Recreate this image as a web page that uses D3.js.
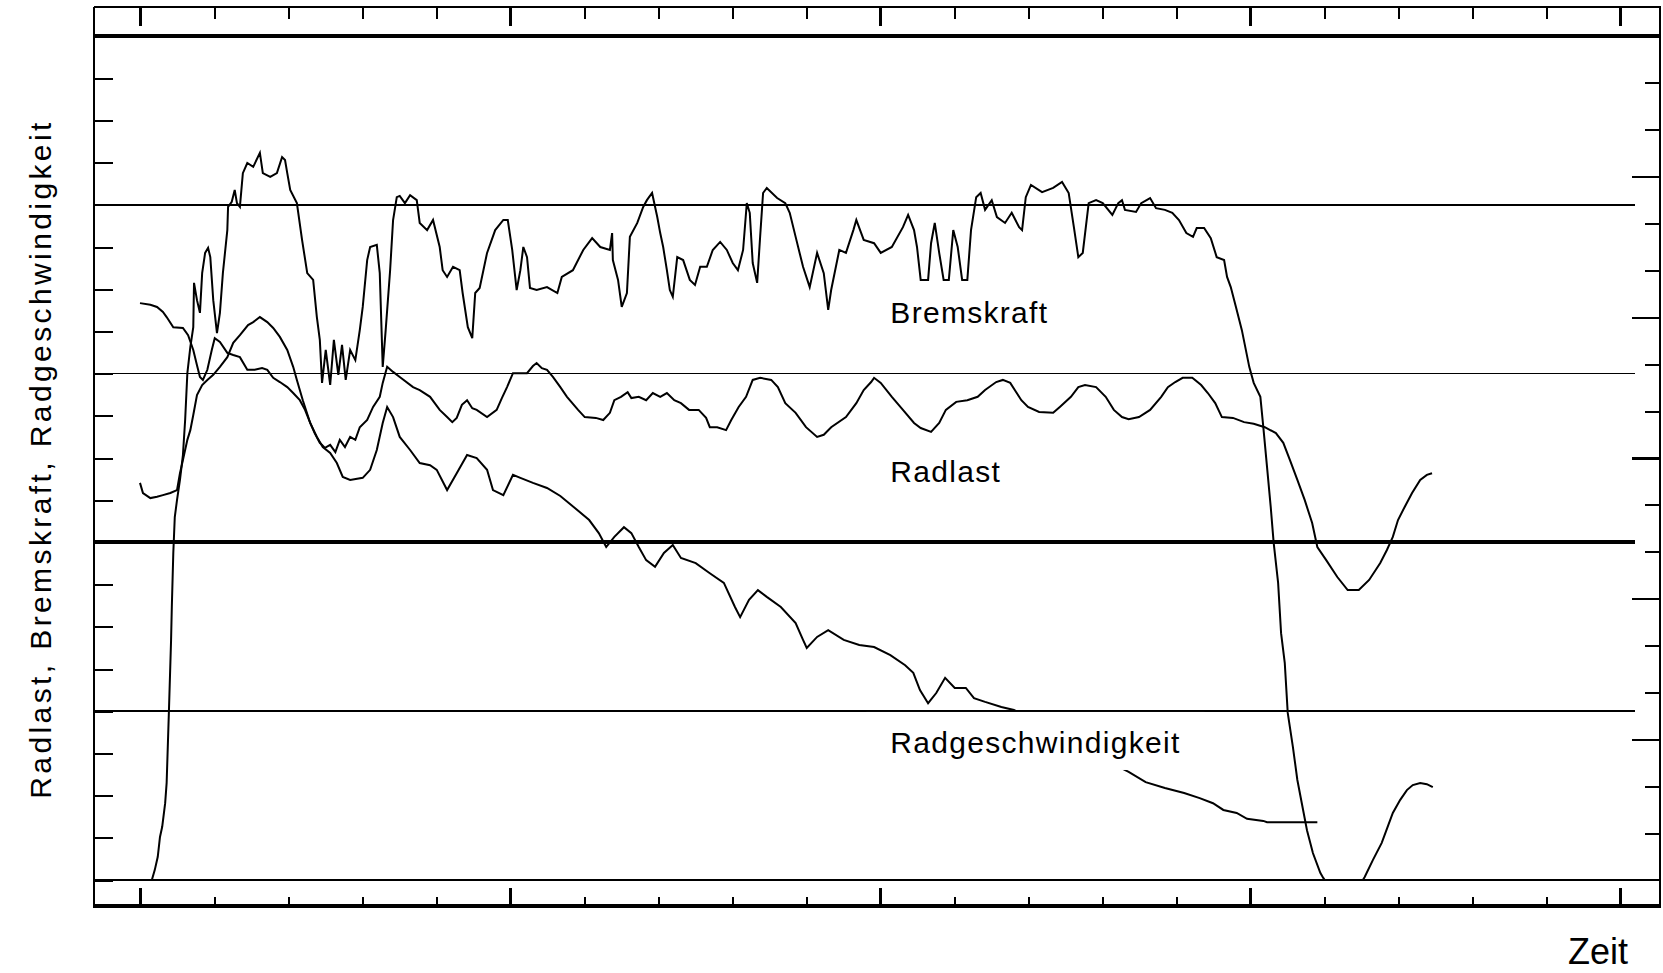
<!DOCTYPE html>
<html>
<head>
<meta charset="utf-8">
<script src="https://cdn.jsdelivr.net/npm/d3@7"></script>
<style>
  html, body { margin: 0; padding: 0; background: #fff; }
  svg { display: block; }
  text { font-family: "Liberation Sans", Arial, sans-serif; fill: #000; }
</style>
</head>
<body>
<svg id="chart" width="1663" height="973"></svg>
<script>
// ---- axis divisions -------------------------------------------------------
const timeTicks = d3.range(0, 21);          // Zeit, 20 divisions
const timeMajor = [0, 5, 10, 15, 20];
const leftTicks = d3.range(0, 21);          // left scale, 20 divisions
const gridThin = [0, 4, 12, 16];
const gridThick = [8, 20];
const rightTicks = d3.range(1, 18);         // right scale, 18 divisions
const rightMajor = [3, 6, 9, 12, 15];

// ---- measured traces: [Zeit, Wert] ---------------------------------------
const bremskraft = [
  [0.16,0],[0.20,0.24],[0.24,0.55],[0.27,1.02],[0.30,1.26],[0.34,1.82],[0.36,2.30],[0.39,3.96],[0.42,5.69],[0.43,6.47],
  [0.45,7.75],[0.47,8.60],[0.50,9.00],[0.54,9.48],[0.58,10.07],[0.61,10.90],[0.64,12.01],[0.68,12.63],[0.72,13.10],[0.73,14.15],
  [0.77,13.74],[0.81,13.44],[0.84,14.38],[0.88,14.86],[0.92,14.98],[0.95,14.76],[0.99,13.74],[1.04,12.96],[1.08,13.44],[1.12,14.38],
  [1.18,15.40],[1.19,15.95],[1.24,16.07],[1.28,16.35],[1.31,16.04],[1.35,15.95],[1.39,16.75],[1.45,16.99],[1.53,16.90],[1.62,17.23],
  [1.66,16.75],[1.76,16.66],[1.85,16.75],[1.92,17.13],[1.96,17.06],[1.99,16.75],[2.03,16.35],[2.12,16.04],[2.19,15.17],[2.26,14.38],
  [2.34,14.22],[2.39,13.34],[2.43,12.80],[2.46,11.78],[2.51,12.56],[2.57,11.73],[2.62,12.80],[2.68,11.97],[2.73,12.68],[2.78,11.85],
  [2.84,12.56],[2.91,12.32],[2.97,13.03],[3.01,13.58],[3.07,14.69],[3.11,15.00],[3.20,15.05],[3.24,14.38],[3.28,12.16],[3.32,13.03],
  [3.38,14.45],[3.42,15.64],[3.47,16.18],[3.51,16.21],[3.58,16.04],[3.65,16.23],[3.74,16.11],[3.78,15.57],[3.88,15.40],[3.96,15.64],
  [4.05,15.00],[4.09,14.45],[4.15,14.29],[4.23,14.53],[4.32,14.45],[4.36,13.91],[4.43,13.10],[4.49,12.84],[4.53,13.91],[4.59,14.03],
  [4.69,14.86],[4.80,15.40],[4.91,15.64],[4.97,15.64],[5.03,14.93],[5.09,13.98],[5.14,14.45],[5.18,15.00],[5.23,14.76],[5.27,14.03],
  [5.36,13.98],[5.50,14.05],[5.64,13.91],[5.70,14.29],[5.85,14.45],[5.99,14.93],[6.11,15.21],[6.22,15.00],[6.35,14.93],[6.38,15.33],
  [6.39,14.69],[6.46,14.22],[6.51,13.58],[6.58,13.91],[6.62,15.24],[6.72,15.57],[6.80,15.95],[6.85,16.11],[6.92,16.28],[6.99,15.71],
  [7.03,15.33],[7.07,15.00],[7.12,14.45],[7.16,13.98],[7.20,13.82],[7.26,14.76],[7.34,14.69],[7.43,14.22],[7.50,14.10],[7.57,14.53],
  [7.66,14.53],[7.74,14.93],[7.84,15.12],[7.93,14.93],[8.01,14.62],[8.08,14.45],[8.15,14.93],[8.20,16.04],[8.24,15.81],[8.28,14.62],
  [8.34,14.15],[8.38,15.24],[8.42,16.28],[8.47,16.40],[8.61,16.16],[8.72,16.04],[8.78,15.81],[8.86,15.24],[8.96,14.53],[9.05,14.05],
  [9.15,14.86],[9.24,14.38],[9.30,13.51],[9.34,13.98],[9.45,14.93],[9.54,14.86],[9.64,15.40],[9.68,15.64],[9.78,15.17],[9.92,15.09],
  [10.01,14.86],[10.16,15.00],[10.31,15.47],[10.38,15.76],[10.46,15.40],[10.50,15.00],[10.55,14.22],[10.65,14.22],[10.69,15.09],[10.74,15.57],
  [10.80,14.86],[10.86,14.22],[10.93,14.22],[10.99,15.40],[11.05,15.00],[11.11,14.22],[11.18,14.22],[11.23,15.40],[11.30,16.18],[11.36,16.28],
  [11.42,15.88],[11.51,16.11],[11.58,15.71],[11.69,15.57],[11.78,15.81],[11.88,15.47],[11.92,15.40],[11.97,16.18],[12.04,16.47],[12.19,16.30],
  [12.34,16.40],[12.46,16.54],[12.55,16.28],[12.62,15.47],[12.68,14.76],[12.74,14.86],[12.82,16.04],[12.92,16.11],[13.01,16.04],[13.14,15.76],
  [13.22,16.04],[13.27,16.11],[13.31,15.88],[13.46,15.83],[13.53,16.04],[13.65,16.16],[13.73,15.92],[13.85,15.88],[13.95,15.81],[14.04,15.64],
  [14.14,15.33],[14.23,15.24],[14.28,15.45],[14.38,15.45],[14.47,15.21],[14.55,14.76],[14.65,14.69],[14.69,14.29],[14.74,14.05],[14.81,13.58],
  [14.89,13.03],[14.99,12.16],[15.05,11.78],[15.14,11.45],[15.18,10.73],[15.23,9.79],[15.28,8.84],[15.32,7.99],[15.38,7.04],[15.42,5.85],
  [15.47,5.14],[15.51,3.96],[15.58,3.15],[15.64,2.37],[15.70,1.82],[15.77,1.18],[15.85,0.64],[15.95,0.17],[15.99,0.05],[16.28,-0.70],
  [16.55,0.07],[16.66,0.47],[16.78,0.88],[16.86,1.26],[16.93,1.59],[17.03,1.90],[17.12,2.13],[17.20,2.25],[17.30,2.30],[17.39,2.27],
  [17.47,2.20]
];

const radlast = [
  [0.00,13.67],[0.14,13.63],[0.23,13.58],[0.31,13.46],[0.36,13.34],[0.45,13.10],[0.58,13.08],[0.65,12.91],[0.72,12.56],[0.77,12.20],
  [0.81,11.92],[0.85,11.85],[0.91,12.09],[0.97,12.56],[1.01,12.84],[1.08,12.75],[1.18,12.49],[1.26,12.44],[1.35,12.39],[1.45,12.09],
  [1.55,12.09],[1.65,12.13],[1.72,12.09],[1.80,11.90],[1.89,11.80],[1.99,11.68],[2.07,11.54],[2.16,11.37],[2.23,11.14],[2.30,10.83],
  [2.36,10.59],[2.43,10.36],[2.50,10.24],[2.57,10.31],[2.64,10.14],[2.70,10.43],[2.77,10.26],[2.84,10.50],[2.91,10.43],[2.97,10.73],
  [3.07,10.90],[3.15,11.21],[3.24,11.45],[3.28,11.78],[3.34,12.16],[3.42,12.04],[3.51,11.92],[3.69,11.68],[3.78,11.61],[3.92,11.45],
  [4.05,11.14],[4.15,10.97],[4.22,10.85],[4.28,10.95],[4.35,11.26],[4.42,11.37],[4.49,11.18],[4.55,11.14],[4.69,10.97],[4.82,11.14],
  [4.89,11.42],[4.96,11.68],[5.04,12.01],[5.23,12.01],[5.31,12.18],[5.36,12.25],[5.43,12.13],[5.50,12.09],[5.58,11.92],[5.68,11.68],
  [5.77,11.45],[5.92,11.14],[6.01,10.97],[6.16,10.95],[6.26,10.90],[6.35,11.07],[6.41,11.37],[6.50,11.45],[6.59,11.56],[6.64,11.42],
  [6.74,11.45],[6.84,11.37],[6.93,11.54],[7.03,11.45],[7.12,11.54],[7.22,11.37],[7.31,11.30],[7.42,11.14],[7.55,11.14],[7.65,10.95],
  [7.70,10.73],[7.80,10.73],[7.92,10.66],[7.99,10.90],[8.09,11.21],[8.19,11.45],[8.28,11.85],[8.38,11.90],[8.53,11.85],[8.62,11.68],
  [8.72,11.30],[8.86,11.07],[9.00,10.73],[9.15,10.50],[9.24,10.55],[9.34,10.73],[9.54,10.97],[9.68,11.30],[9.78,11.61],[9.88,11.80],
  [9.92,11.90],[10.01,11.78],[10.16,11.45],[10.31,11.14],[10.46,10.83],[10.55,10.71],[10.69,10.62],[10.80,10.83],[10.89,11.14],[11.03,11.33],
  [11.18,11.37],[11.32,11.45],[11.42,11.61],[11.57,11.80],[11.66,11.85],[11.76,11.78],[11.91,11.37],[12.00,11.21],[12.15,11.09],[12.34,11.07],
  [12.43,11.21],[12.58,11.45],[12.68,11.68],[12.77,11.73],[12.92,11.68],[13.05,11.45],[13.16,11.14],[13.27,10.97],[13.36,10.92],[13.50,10.97],
  [13.65,11.14],[13.80,11.45],[13.89,11.68],[13.99,11.80],[14.09,11.90],[14.22,11.90],[14.34,11.73],[14.43,11.54],[14.53,11.30],[14.62,10.97],
  [14.77,10.95],[14.92,10.85],[15.05,10.81],[15.20,10.73],[15.35,10.59],[15.45,10.36],[15.54,9.95],[15.64,9.48],[15.74,9.00],[15.84,8.46],
  [15.91,7.89],[16.03,7.58],[16.18,7.18],[16.32,6.87],[16.47,6.87],[16.61,7.11],[16.76,7.51],[16.85,7.82],[16.93,8.13],[17.00,8.53],
  [17.09,8.84],[17.19,9.17],[17.30,9.48],[17.39,9.60],[17.46,9.64]
];

const radgeschwindigkeit = [
  [0.00,9.41],[0.04,9.17],[0.14,9.05],[0.23,9.08],[0.31,9.12],[0.41,9.17],[0.50,9.24],[0.54,9.64],[0.58,9.95],[0.64,10.43],
  [0.68,10.66],[0.72,11.02],[0.77,11.49],[0.84,11.73],[0.91,11.85],[0.99,11.97],[1.08,12.16],[1.18,12.39],[1.26,12.73],[1.35,12.91],
  [1.46,13.15],[1.53,13.22],[1.62,13.34],[1.72,13.22],[1.80,13.08],[1.89,12.87],[1.99,12.56],[2.07,12.16],[2.12,11.85],[2.20,11.37],
  [2.30,10.83],[2.39,10.50],[2.47,10.26],[2.57,10.12],[2.66,9.88],[2.74,9.55],[2.84,9.48],[3.01,9.53],[3.11,9.72],[3.20,10.19],
  [3.28,10.83],[3.34,11.21],[3.42,10.97],[3.51,10.50],[3.65,10.19],[3.78,9.88],[3.92,9.83],[4.01,9.72],[4.15,9.24],[4.28,9.64],
  [4.42,10.07],[4.55,10.00],[4.69,9.72],[4.77,9.24],[4.91,9.12],[5.04,9.60],[5.14,9.53],[5.31,9.41],[5.50,9.29],[5.68,9.10],
  [5.86,8.84],[6.07,8.53],[6.20,8.22],[6.30,7.89],[6.41,8.13],[6.54,8.36],[6.64,8.22],[6.74,7.89],[6.84,7.58],[6.96,7.42],
  [7.08,7.75],[7.20,7.94],[7.31,7.63],[7.51,7.51],[7.70,7.27],[7.89,7.04],[8.04,6.47],[8.11,6.23],[8.23,6.64],[8.35,6.87],
  [8.47,6.71],[8.66,6.47],[8.86,6.09],[8.96,5.69],[9.01,5.50],[9.15,5.76],[9.30,5.92],[9.51,5.69],[9.72,5.57],[9.92,5.52],
  [10.14,5.33],[10.34,5.09],[10.45,4.91],[10.54,4.50],[10.65,4.19],[10.76,4.43],[10.88,4.79],[11.01,4.55],[11.16,4.55],[11.27,4.31],
  [11.42,4.22],[11.64,4.10],[11.81,4.03],[12.57,3.27],[13.36,2.56],[13.59,2.32],[13.85,2.18],[14.11,2.06],[14.32,1.94],[14.50,1.82],
  [14.64,1.66],[14.82,1.59],[14.96,1.45],[15.18,1.40],[15.23,1.37],[15.91,1.37]
];

const seriesNames = ["Bremskraft", "Radlast", "Radgeschwindigkeit"];
const yAxisTitle = "Radlast, Bremskraft, Radgeschwindigkeit";
const xAxisTitle = "Zeit";

// ---- layout ----------------------------------------------------------------
const frame = { left: 94, right: 1660, top: 7, bottom: 906 };
const gridEnd = 1635;

const x = d3.scaleLinear().domain([0, 20]).range([140, 1620]);
const y = d3.scaleLinear().domain([0, 20]).range([880, 36]);
const yR = d3.scaleLinear().domain([0, 18]).range([880, 36]);

const svg = d3.select("#chart");

svg.append("defs").append("clipPath").attr("id", "plotClip")
  .append("rect")
  .attr("x", frame.left).attr("y", y(20))
  .attr("width", frame.right - frame.left).attr("height", y(0) - y(20));

// horizontal reference lines
const gridG = svg.append("g").attr("shape-rendering", "crispEdges");
gridG.selectAll("line.thin").data(gridThin).join("line")
  .attr("class", "thin")
  .attr("x1", frame.left)
  .attr("x2", d => (d === 0 ? frame.right : gridEnd))
  .attr("y1", d => y(d)).attr("y2", d => y(d))
  .attr("stroke", "#000").attr("stroke-width", 1.6);
gridG.selectAll("line.thick").data(gridThick).join("line")
  .attr("class", "thick")
  .attr("x1", frame.left)
  .attr("x2", d => (d === 20 ? frame.right : gridEnd))
  .attr("y1", d => y(d)).attr("y2", d => y(d))
  .attr("stroke", "#000").attr("stroke-width", 4);

// axes drawn as tick rows along the frame
function tickRow(axis, tx, ty, width) {
  const g = svg.append("g").attr("transform", `translate(${tx},${ty})`).call(axis);
  g.select(".domain").remove();
  g.selectAll("text").remove();
  g.selectAll(".tick line").attr("stroke", "#000").attr("stroke-width", width)
    .attr("shape-rendering", "crispEdges");
  return g;
}
const minorTime = timeTicks.filter(d => !timeMajor.includes(d));
tickRow(d3.axisBottom(x).tickValues(minorTime).tickSize(12), 0, frame.top, 2);
tickRow(d3.axisBottom(x).tickValues(timeMajor).tickSize(19), 0, frame.top, 2.5);
tickRow(d3.axisTop(x).tickValues(minorTime).tickSize(9), 0, frame.bottom, 2);
tickRow(d3.axisTop(x).tickValues(timeMajor).tickSize(18), 0, frame.bottom, 2.5);
tickRow(d3.axisRight(y).tickValues(leftTicks).tickSize(19), frame.left, 0, 2);
const minorRight = rightTicks.filter(d => !rightMajor.includes(d));
tickRow(d3.axisLeft(yR).tickValues(minorRight).tickSize(15), frame.right, 0, 2);
tickRow(d3.axisLeft(yR).tickValues(rightMajor).tickSize(28), frame.right, 0, 2.5);

// outer frame
const frameG = svg.append("g").attr("stroke", "#000").attr("shape-rendering", "crispEdges");
frameG.append("line").attr("x1", frame.left).attr("x2", frame.right + 1)
  .attr("y1", frame.top).attr("y2", frame.top).attr("stroke-width", 2);
frameG.append("line").attr("x1", frame.left).attr("x2", frame.left)
  .attr("y1", frame.top).attr("y2", frame.bottom).attr("stroke-width", 2);
frameG.append("line").attr("x1", frame.right).attr("x2", frame.right)
  .attr("y1", frame.top).attr("y2", frame.bottom).attr("stroke-width", 2);
frameG.append("line").attr("x1", frame.left - 1).attr("x2", frame.right + 1)
  .attr("y1", frame.bottom).attr("y2", frame.bottom).attr("stroke-width", 4);

// traces
const line = d3.line().x(d => x(d[0])).y(d => y(d[1]));
const traces = svg.append("g").attr("clip-path", "url(#plotClip)");
[bremskraft, radlast, radgeschwindigkeit].forEach(series => {
  traces.append("path").datum(series)
    .attr("d", line)
    .attr("fill", "none")
    .attr("stroke", "#000")
    .attr("stroke-width", 2)
    .attr("stroke-linejoin", "miter");
});

// in-plot labels
const labelStyle = sel => sel.attr("font-size", 30).style("letter-spacing", "1.3px");
const labelPos = [
  { name: seriesNames[0], t: 10.14, v: 13.2, boxed: false },
  { name: seriesNames[1], t: 10.14, v: 9.43, boxed: false },
  { name: seriesNames[2], t: 10.14, v: 3.01, boxed: true }
];
labelPos.forEach(l => {
  const g = svg.append("g");
  const txt = g.append("text")
    .attr("x", x(l.t)).attr("y", y(l.v))
    .text(l.name)
    .call(labelStyle);
  if (l.boxed) {
    const b = txt.node().getBBox();
    g.insert("rect", "text")
      .attr("x", b.x - 24).attr("y", b.y - 14)
      .attr("width", b.width + 48).attr("height", b.height + 25)
      .attr("fill", "#fff");
  }
});

// axis titles
svg.append("text")
  .attr("transform", "translate(51,459) rotate(-90)")
  .attr("text-anchor", "middle")
  .attr("font-size", 30)
  .style("letter-spacing", "3.4px")
  .text(yAxisTitle);

svg.append("text")
  .attr("x", 1568).attr("y", 964)
  .attr("font-size", 36)
  .text(xAxisTitle);
</script>
</body>
</html>
